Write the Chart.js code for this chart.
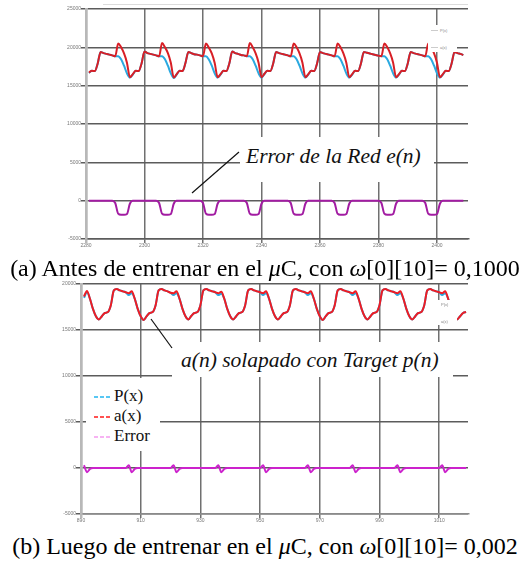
<!DOCTYPE html>
<html>
<head>
<meta charset="utf-8">
<script src="https://cdn.jsdelivr.net/npm/chart.js@4.4.1/dist/chart.umd.min.js"></script>
<style>
  body { margin: 0; background: #fff; }
  #page { position: relative; width: 530px; height: 561px; overflow: hidden; font-family: "Liberation Serif", "Times New Roman", "DejaVu Serif", serif; }
  canvas { position: absolute; left: 0; }
  .box { position: absolute; background: #fff; }
  .note { position: absolute; font-style: italic; font-size: 21.5px; white-space: nowrap; color: #111; line-height: 22px; }
  .caption { position: absolute; left: 0; width: 530px; text-align: center; font-size: 24px; color: #000; white-space: nowrap; line-height: 26px; }
  .legend { position: absolute; font-size: 17px; color: #111; line-height: 20px; }
  .legend div { height: 20px; white-space: nowrap; }
  .legend svg { vertical-align: middle; margin-right: 3px; }
  .tiny { position: absolute; font-family: "Liberation Sans", sans-serif; font-size: 4px; color: #888; white-space: nowrap; }
</style>
</head>
<body>
<div id="page">
  <canvas id="topChart" width="530" height="252" style="top:0"></canvas>
  <canvas id="bottomChart" width="530" height="250" style="top:278px"></canvas>

  <div class="box" style="left:103px;top:4px;width:365px;height:1px;background:#dcdcdc"></div>

  <!-- small legend remnants (top chart) -->
  <div class="box" style="left:428px;top:25px;width:29px;height:27px"></div>
  <div class="tiny" style="left:440px;top:28px">P(x)</div>
  <div class="tiny" style="left:440px;top:45px">a(x)</div>
  <div class="box" style="left:431px;top:30px;width:7px;height:1px;background:#ccc"></div>
  <div class="box" style="left:431px;top:47px;width:7px;height:1px;background:#ccc"></div>

  <!-- annotation top -->
  <div class="box" style="left:240px;top:137px;width:194px;height:45px"></div>
  <div class="note" style="left:246px;top:145px">Error de la Red e(n)</div>

  <div class="caption" style="top:255px">(a) Antes de entrenar en el <i>μ</i>C, con <i>ω</i>[0][10]= 0,1000</div>

  <!-- small legend remnants (bottom chart) -->
  <div class="box" style="left:429px;top:300px;width:28px;height:25px"></div>
  <div class="tiny" style="left:441px;top:302px">P(x)</div>
  <div class="tiny" style="left:441px;top:319px">a(x)</div>

  <!-- annotation bottom -->
  <div class="box" style="left:172px;top:342px;width:281px;height:35px"></div>
  <div class="note" style="left:181px;top:349px">a(n) solapado con Target p(n)</div>

  <!-- legend bottom -->
  <div class="box" style="left:86px;top:378px;width:74px;height:73px"></div>
  <div class="legend" style="left:94px;top:386px">
    <div><svg width="17" height="4"><line x1="0" y1="2" x2="17" y2="2" stroke="#22b5f0" stroke-width="1.5" stroke-dasharray="4,2"/></svg>P(x)</div>
    <div><svg width="17" height="4"><line x1="0" y1="2" x2="17" y2="2" stroke="#ff1a1a" stroke-width="1.5" stroke-dasharray="4,2"/></svg>a(x)</div>
    <div><svg width="17" height="4"><line x1="0" y1="2" x2="17" y2="2" stroke="#f59af0" stroke-width="1.5" stroke-dasharray="4,2"/></svg>Error</div>
  </div>

  <div class="caption" style="top:533px">(b) Luego de entrenar en el <i>μ</i>C, con <i>ω</i>[0][10]= 0,002</div>

  <svg width="530" height="561" style="position:absolute;left:0;top:0;pointer-events:none">
    <line x1="239" y1="152" x2="192" y2="193" stroke="#111" stroke-width="1.2"/>
    <line x1="172" y1="348" x2="151" y2="319" stroke="#111" stroke-width="1.2"/>
  </svg>
</div>

<script>
// (a) before training: samples 2281..2409
const TOP_FIRST_SAMPLE = 2281;
const topXTicks = [2280, 2300, 2320, 2340, 2360, 2380, 2400];
const topYTicks = [-5000, 0, 5000, 10000, 15000, 20000, 25000];

const topOutput = [
  16700, 16950, 16900, 17900,
  19400, 19250, 19150, 19050, 18950, 18850, 20500, 20000, 19200, 18000, 16100, 16500, 16950, 16900, 17900,
  19450, 19250, 19150, 19050, 18950, 18850, 20550, 20000, 19250, 18000, 16050, 16500, 16950, 16900, 17950,
  19400, 19250, 19100, 19050, 18950, 18850, 20500, 19950, 19200, 17950, 16100, 16500, 16950, 16900, 17900,
  19450, 19250, 19150, 19000, 18950, 18850, 20550, 20000, 19200, 18000, 16100, 16550, 16950, 16900, 17900,
  19400, 19250, 19150, 19050, 18950, 18850, 20500, 20000, 19200, 18000, 16100, 16500, 16950, 16900, 17900,
  19400, 19250, 19150, 19050, 18950, 18850, 20500, 20000, 19200, 18000, 16100, 16500, 16950, 16900, 17900,
  19400, 19300, 19200, 19100, 19000, 18900, 18850, 20500, 20000, 19200, 18000, 16100, 16500, 16950, 16900, 17900,
  19400, 19250, 19150, 19050, 18950, 18850, 20500, 20000, 19200, 18000, 16100, 16500, 16950, 16900, 17900,
  19400, 19250, 19150, 19000
];

const topTarget = [
  16650, 16950, 16900, 17900,
  19400, 19250, 19150, 19050, 18950, 18850, 18850, 18450, 17600, 16600, 16050, 16450, 16950, 16900, 17900,
  19450, 19250, 19150, 19050, 18950, 18850, 18850, 18450, 17600, 16600, 16000, 16450, 16950, 16900, 17950,
  19400, 19250, 19100, 19050, 18950, 18850, 18850, 18400, 17600, 16600, 16050, 16450, 16950, 16900, 17900,
  19450, 19250, 19150, 19000, 18950, 18850, 18850, 18450, 17600, 16600, 16050, 16500, 16950, 16900, 17900,
  19400, 19250, 19150, 19050, 18950, 18850, 18850, 18450, 17600, 16600, 16050, 16450, 16950, 16900, 17900,
  19400, 19250, 19150, 19050, 18950, 18850, 18850, 18450, 17600, 16600, 16050, 16450, 16950, 16900, 17900,
  19400, 19300, 19200, 19100, 19000, 18900, 18850, 18850, 18450, 17600, 16600, 16050, 16450, 16950, 16900, 17900,
  19400, 19250, 19150, 19050, 18950, 18850, 18850, 18450, 17600, 16600, 16050, 16450, 16950, 16900, 17900,
  19400, 19250, 19150, 19000
];

const topError = [
  0, 0, 0, 0,
  0, 0, 0, 0, 0, -300, -1700, -1850, -1850, -1750, -400, 0, 0, 0, 0,
  0, 0, 0, 0, 0, -300, -1700, -1850, -1850, -1750, -400, 0, 0, 0, 0,
  0, 0, 0, 0, 0, -300, -1700, -1850, -1850, -1750, -400, 0, 0, 0, 0,
  0, 0, 0, 0, 0, -300, -1700, -1850, -1850, -1750, -400, 0, 0, 0, 0,
  0, 0, 0, 0, 0, -300, -1700, -1850, -1850, -1750, -400, 0, 0, 0, 0,
  0, 0, 0, 0, 0, -300, -1700, -1850, -1850, -1750, -400, 0, 0, 0, 0,
  0, 0, 0, 0, 0, 0, -300, -1700, -1850, -1850, -1750, -400, 0, 0, 0, 0,
  0, 0, 0, 0, 0, -300, -1700, -1850, -1850, -1750, -400, 0, 0, 0, 0,
  0, 0, 0, 0
];

// (b) after training: samples 891..1019
const BOTTOM_FIRST_SAMPLE = 891;
const bottomXTicks = [890, 910, 930, 950, 970, 990, 1010];
const bottomYTicks = [-5000, 0, 5000, 10000, 15000, 20000];

const bottomOutput = [
  18650, 19250, 18400, 17300, 16500,
  16150, 16500, 16850, 16950, 17700, 19300, 19450, 19300, 19200, 19100, 19000, 19200, 18400, 17300, 16500,
  16100, 16500, 16850, 16950, 17700, 19300, 19450, 19300, 19200, 19050, 19000, 19200, 18400, 17300, 16500,
  16150, 16550, 16850, 16950, 17700, 19300, 19450, 19300, 19200, 19100, 19000, 19150, 18400, 17300, 16500,
  16150, 16500, 16850, 16950, 17700, 19300, 19450, 19300, 19200, 19100, 19000, 19200, 18400, 17300, 16500,
  16150, 16500, 16850, 16950, 17700, 19300, 19450, 19300, 19200, 19100, 19000, 19200, 18400, 17300, 16500,
  16100, 16500, 16850, 16950, 17700, 19300, 19450, 19300, 19200, 19100, 19000, 19200, 18400, 17300, 16500,
  16150, 16500, 16850, 16950, 17700, 19300, 19450, 19300, 19200, 19100, 19000, 19200, 18400, 17300, 16500,
  16150, 16500, 16850, 16950, 17700, 19300, 19450, 19300, 19200, 19100, 19000, 19200, 18400, 17300, 16500,
  16150, 16500, 16850, 16950
];

const bottomTarget = [
  18500, 19100, 18400, 17300, 16500,
  16150, 16500, 16850, 16950, 17700, 19300, 19450, 19300, 19200, 19100, 18800, 19000, 18400, 17300, 16500,
  16100, 16500, 16850, 16950, 17700, 19300, 19450, 19300, 19200, 19050, 18800, 19000, 18400, 17300, 16500,
  16150, 16550, 16850, 16950, 17700, 19300, 19450, 19300, 19200, 19100, 18800, 18950, 18400, 17300, 16500,
  16150, 16500, 16850, 16950, 17700, 19300, 19450, 19300, 19200, 19100, 18800, 19000, 18400, 17300, 16500,
  16150, 16500, 16850, 16950, 17700, 19300, 19450, 19300, 19200, 19100, 18800, 19000, 18400, 17300, 16500,
  16100, 16500, 16850, 16950, 17700, 19300, 19450, 19300, 19200, 19100, 18800, 19000, 18400, 17300, 16500,
  16150, 16500, 16850, 16950, 17700, 19300, 19450, 19300, 19200, 19100, 18800, 19000, 18400, 17300, 16500,
  16150, 16500, 16850, 16950, 17700, 19300, 19450, 19300, 19200, 19100, 18800, 19000, 18400, 17300, 16500,
  16150, 16500, 16850, 16950
];

const bottomError = [
  300, -450, -100, 0, 0,
  0, 0, 0, 0, 0, 0, 0, 0, 0, 0, 300, -450, -100, 0, 0,
  0, 0, 0, 0, 0, 0, 0, 0, 0, 0, 300, -450, -100, 0, 0,
  0, 0, 0, 0, 0, 0, 0, 0, 0, 0, 300, -450, -100, 0, 0,
  0, 0, 0, 0, 0, 0, 0, 0, 0, 0, 300, -450, -100, 0, 0,
  0, 0, 0, 0, 0, 0, 0, 0, 0, 0, 300, -450, -100, 0, 0,
  0, 0, 0, 0, 0, 0, 0, 0, 0, 0, 300, -450, -100, 0, 0,
  0, 0, 0, 0, 0, 0, 0, 0, 0, 0, 300, -450, -100, 0, 0,
  0, 0, 0, 0, 0, 0, 0, 0, 0, 0, 300, -450, -100, 0, 0,
  0, 0, 0, 0
];


function toPoints(first, values) {
    return values.map((v, i) => ({ x: first + i, y: v }));
}

function lineSet(label, first, values, color, width) {
    return {
        label: label,
        data: toPoints(first, values),
        borderColor: color,
        borderWidth: width,
        pointRadius: 0,
        fill: false,
        cubicInterpolationMode: 'monotone'
    };
}

function makeChart(id, datasets, cfg) {
    const ctx = document.getElementById(id);

    return new Chart(ctx, {
        type: 'line',
        data: { datasets: datasets },
        options: {
            responsive: false,
            animation: false,
            layout: { padding: { left: 0, right: 62, top: cfg.padTop, bottom: 0 } },
            plugins: {
                legend: { display: false },
                tooltip: { enabled: false }
            },
            scales: {
                x: {
                    type: 'linear',
                    min: cfg.xTicks[0],
                    max: cfg.xMax,
                    afterBuildTicks: s => { s.ticks = cfg.xTicks.map(v => ({ value: v })); },
                    afterFit: s => { s.height = cfg.xHeight; },
                    ticks: {
                        autoSkip: false,
                        maxRotation: 0,
                        padding: 0,
                        color: '#777',
                        font: { size: 5, family: 'Liberation Sans' },
                        callback: v => String(v)
                    },
                    grid: {
                        color: c => c.index === 0 ? '#b8b8b8' : '#707070',
                        lineWidth: c => c.index === 0 ? 2.5 : 1.5,
                        tickLength: 4
                    },
                    border: { color: cfg.bottomBorder, width: 1.5 }
                },
                y: {
                    min: cfg.yTicks[0],
                    max: cfg.yTicks[cfg.yTicks.length - 1],
                    afterBuildTicks: s => { s.ticks = cfg.yTicks.map(v => ({ value: v })); },
                    afterFit: s => { s.width = cfg.yWidth; },
                    ticks: {
                        padding: 0,
                        color: '#777',
                        font: { size: 5, family: 'Liberation Sans' },
                        callback: v => String(v)
                    },
                    grid: { color: '#5c5c5c', lineWidth: 1.5, tickLength: 5 },
                    border: { color: '#b8b8b8', width: 2.5 }
                }
            }
        }
    });
}


makeChart('topChart', [
    lineSet('Error', TOP_FIRST_SAMPLE, topError, '#a21ca2', 2),
    lineSet('a(x)', TOP_FIRST_SAMPLE, topOutput, '#d81f26', 2),
    lineSet('P(x)', TOP_FIRST_SAMPLE, topTarget, '#2aa9e0', 2)
], {
    xTicks: topXTicks, xMax: 2410.6, yTicks: topYTicks,
    padTop: 9, xHeight: 13, yWidth: 86, bottomBorder: '#5c5c5c'
});

makeChart('bottomChart', [
    lineSet('Error', BOTTOM_FIRST_SAMPLE, bottomError, '#cc22cc', 2),
    lineSet('a(x)', BOTTOM_FIRST_SAMPLE, bottomOutput, '#ee1c24', 2),
    lineSet('P(x)', BOTTOM_FIRST_SAMPLE, bottomTarget, '#29abe2', 2)
], {
    xTicks: bottomXTicks, xMax: 1019.65, yTicks: bottomYTicks,
    padTop: 6, xHeight: 14, yWidth: 81, bottomBorder: '#8a8a8a'
});
</script>
</body>
</html>
